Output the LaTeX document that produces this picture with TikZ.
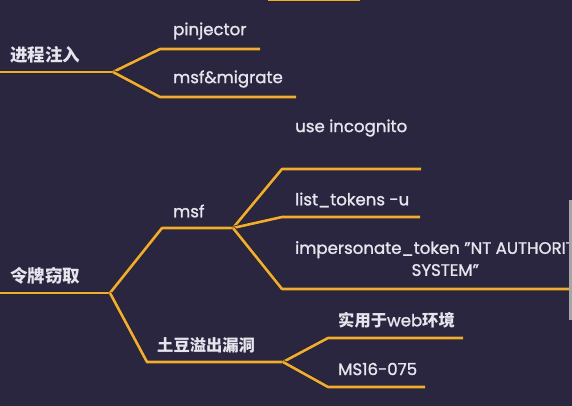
\documentclass[tikz,border=0pt]{standalone}
\usepackage{fontspec}
\setmainfont{Poppins}[FakeBold=1.3]
\newfontfamily\cjk{Noto Sans CJK SC}
\definecolor{bg}{HTML}{2B2640}
\definecolor{br}{HTML}{F2AC35}
\definecolor{tx}{HTML}{E6E4EC}
\tikzset{
  branch/.style={draw=br, line width=2.6pt, line join=round,
    preaction={draw=black!85, line width=4.2pt, line join=round}},
  lat/.style={anchor=west, inner sep=0pt, text=tx, font=\fontsize{16.6}{22}\selectfont},
  han/.style={anchor=west, inner sep=0pt, text=tx, font=\cjk\bfseries\fontsize{17.5}{20}\selectfont},
  hansub/.style={han, font=\cjk\bfseries\fontsize{16.3}{20}\selectfont},
}
\begin{document}
\begin{tikzpicture}[x=1pt,y=-1pt]
\fill[bg] (0,0) rectangle (572,406);
\useasboundingbox (0,0) rectangle (572,406);
\clip (0,0) rectangle (572,406);
% coordinates
\coordinate (a0) at (-5,72);
\coordinate (A) at (113,72);
\coordinate (a1) at (160,49);  \coordinate (a1e) at (260,49);
\coordinate (a2) at (160,97);  \coordinate (a2e) at (296,97);
\coordinate (t0) at (268,0);   \coordinate (t0e) at (360,0);
\coordinate (b0) at (-5,293);
\coordinate (B) at (110,293);
\coordinate (b1) at (162,228); \coordinate (C) at (233,228);
\coordinate (c1) at (282,169); \coordinate (c1e) at (421,169);
\coordinate (c2) at (282,217); \coordinate (c2e) at (420,217);
\coordinate (c3) at (282,289); \coordinate (c3e) at (580,289);
\coordinate (b2) at (147,362); \coordinate (D) at (283,362);
\coordinate (d1) at (328,338); \coordinate (d1e) at (463,338);
\coordinate (d2) at (328,387); \coordinate (d2e) at (425,387);
% connectors
\path[branch] (t0) -- (t0e);
\path[branch] (a0) -- (A);
\path[branch] (A) -- (a1) -- (a1e);
\path[branch] (A) -- (a2) -- (a2e);
\path[branch] (b0) -- (B);
\path[branch] (B) -- (b1) -- (C);
\path[branch] (C) -- (c1) -- (c1e);
\path[branch] (C) -- (c2) -- (c2e);
\path[branch] (C) -- (c3) -- (c3e);
\path[branch] (B) -- (b2) -- (D);
\path[branch] (D) -- (d1) -- (d1e);
\path[branch] (D) -- (d2) -- (d2e);
% texts
\node[han] (n1) at (10,55) {进程注入};
\node[lat] (n2) at (173,31) {pinjector};
\node[lat] (n3) at (173,79) {msf\&migrate};
\node[lat] (n4) at (295,128) {use incognito};
\node[lat] (n5) at (295,200) {list\_tokens -u};
\node[lat, align=center, anchor=north west] (n6) at (295,238) {impersonate\_token "NT AUTHORITY\textbackslash\\SYSTEM"};
\node[han] (n7) at (10,276) {令牌窃取};
\node[lat] (n8) at (173,211) {msf};
\node[hansub] (n9) at (157,345) {土豆溢出漏洞};
\node[lat] (n10) at (338,320) {\cjk\bfseries\fontsize{16.3}{20}\selectfont 实用于\rmfamily\mdseries\fontsize{16.6}{20}\selectfont web\cjk\bfseries\fontsize{16.3}{20}\selectfont 环境};
\node[lat] (n11) at (338,369) {MS16-075};
\fill[gray!70] (569,200) rectangle (572,320);
\end{tikzpicture}
\end{document}
